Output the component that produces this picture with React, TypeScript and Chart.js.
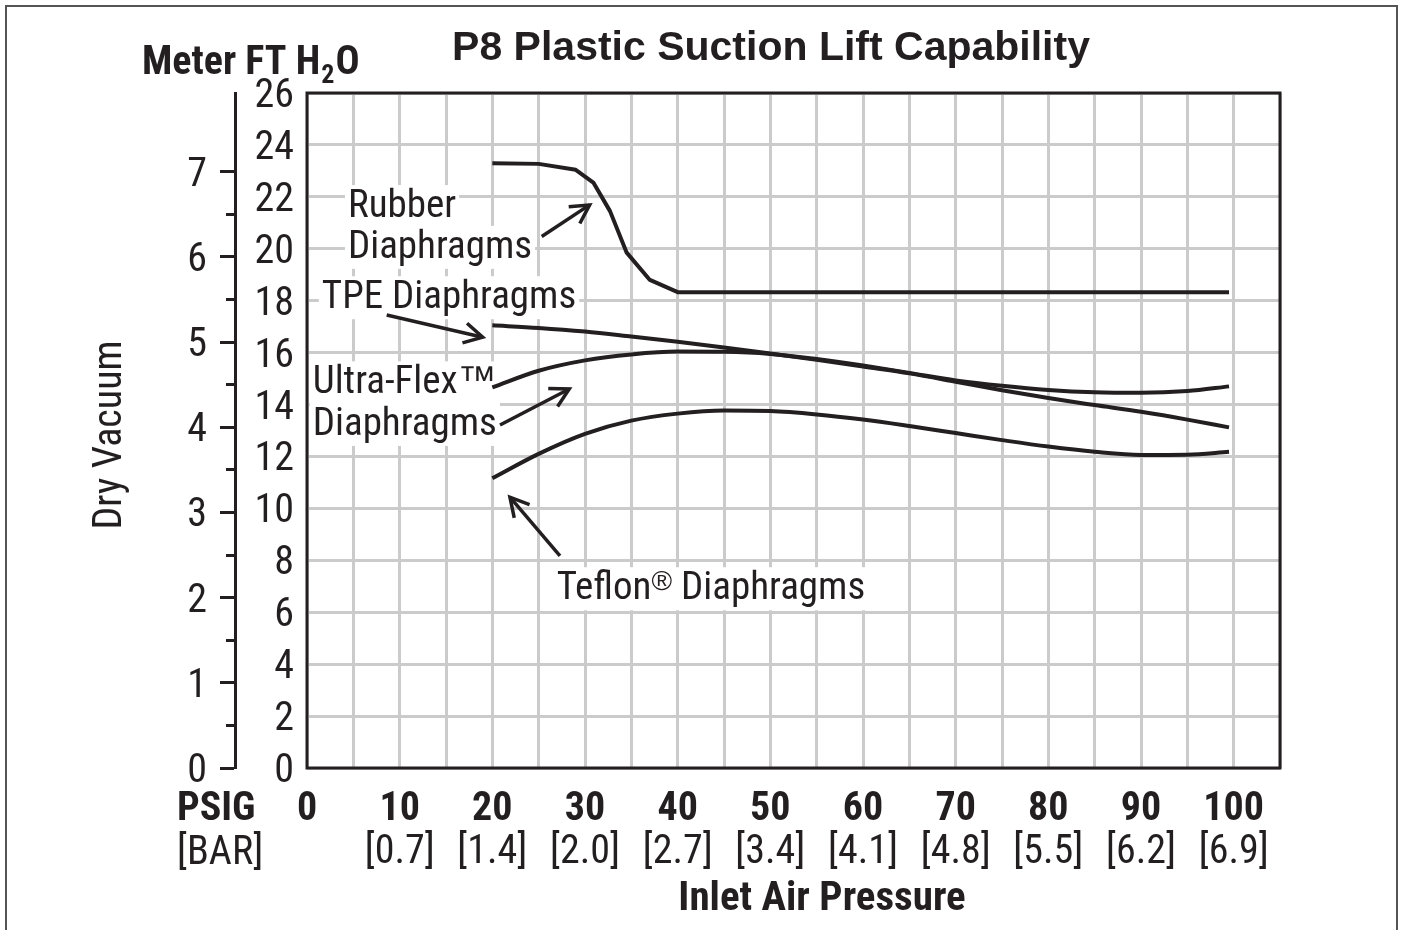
import React, { useEffect, useRef } from 'react';
import { Chart, registerables } from 'chart.js';

Chart.register(...registerables);

// ---------- data ----------
const FT_PER_METER = 3.28084;

const rubberPsi = [20, 25, 29, 30.9, 32.7, 34.5, 37, 40, 99.5];
const rubberFt = [23.29, 23.27, 23.04, 22.55, 21.45, 19.85, 18.8, 18.33, 18.33];

const curvePsi = [20, 25, 30, 35, 40, 45, 50, 55, 60, 65, 70, 75, 80, 85, 90, 95, 99.5];
const tpeFt = [17.05, 16.95, 16.81, 16.62, 16.42, 16.2, 15.97, 15.72, 15.46, 15.2, 14.88, 14.55, 14.25, 13.98, 13.72, 13.42, 13.12];
const ultraFlexFt = [14.66, 15.3, 15.7, 15.93, 16.04, 16.03, 15.95, 15.75, 15.5, 15.22, 14.93, 14.72, 14.56, 14.47, 14.45, 14.52, 14.7];
const teflonFt = [11.16, 12.1, 12.87, 13.38, 13.65, 13.77, 13.75, 13.62, 13.42, 13.17, 12.9, 12.63, 12.38, 12.18, 12.06, 12.07, 12.18];

const psiTickValues = [0, 10, 20, 30, 40, 50, 60, 70, 80, 90, 100];
const barTickLabels = ['', '[0.7]', '[1.4]', '[2.0]', '[2.7]', '[3.4]', '[4.1]', '[4.8]', '[5.5]', '[6.2]', '[6.9]'];

// annotation texts (anchored in data coordinates: left edge / baseline)
const annotationLabels = [
  { parts: [{ t: 'Rubber' }], psi: 4.42, ft: 21.22 },
  { parts: [{ t: 'Diaphragms' }], psi: 4.42, ft: 19.65 },
  { parts: [{ t: 'TPE Diaphragms' }], psi: 1.6, ft: 17.71 },
  { parts: [{ t: 'Ultra-Flex' }, { t: '™', sym: 39, rise: 0 }], psi: 0.62, ft: 14.43 },
  { parts: [{ t: 'Diaphragms' }], psi: 0.62, ft: 12.83 },
  { parts: [{ t: 'Teflon' }, { t: '®', sym: 28, rise: 9 }, { t: ' Diaphragms' }], psi: 26.94, ft: 6.5 },
];

const annotationArrows = [
  { from: [25.33, 20.47], to: [30.5, 21.69] },
  { from: [8.6, 17.45], to: [18.96, 16.59] },
  { from: [20.83, 13.21], to: [28.3, 14.6] },
  { from: [27.3, 8.17], to: [21.9, 10.43] },
];

// ---------- styles ----------
const INK = '#231f20';
const GRID = '#cbcbcb';
const NARROW = '"Roboto Condensed", "Liberation Sans Narrow", "DejaVu Sans Condensed", sans-serif';
const WIDE = '"Liberation Sans", Arial, sans-serif';

function drawArrow(ctx: CanvasRenderingContext2D, x1: number, y1: number, x2: number, y2: number) {
  ctx.beginPath();
  ctx.moveTo(x1, y1);
  ctx.lineTo(x2, y2);
  ctx.stroke();
  const a = Math.atan2(y2 - y1, x2 - x1);
  const L = 21;
  const h = 0.5;
  ctx.beginPath();
  ctx.moveTo(x2 - L * Math.cos(a - h), y2 - L * Math.sin(a - h));
  ctx.lineTo(x2, y2);
  ctx.lineTo(x2 - L * Math.cos(a + h), y2 - L * Math.sin(a + h));
  ctx.stroke();
}

const decorPlugin = {
  id: 'decor',
  beforeDraw(chart: any) {
    const ctx = chart.ctx as CanvasRenderingContext2D;
    ctx.save();
    ctx.strokeStyle = '#555';
    ctx.lineWidth = 2;
    ctx.strokeRect(6, 6, 1391, 940);
    ctx.restore();
  },
  beforeDatasetsDraw(chart: any) {
    const ctx = chart.ctx as CanvasRenderingContext2D;
    const xs = chart.scales.x;
    const ys = chart.scales.y;
    ctx.save();
    const size = 39;
    const fontOf = (p: any) => (p.sym ? `${p.sym}px ${WIDE}` : `${size}px ${NARROW}`);
    for (const lab of annotationLabels) {
      const px = xs.getPixelForValue(lab.psi);
      const py = ys.getPixelForValue(lab.ft);
      let w = 0;
      const widths: number[] = [];
      for (const p of lab.parts as any[]) {
        ctx.font = fontOf(p);
        const m = ctx.measureText(p.t).width;
        widths.push(m);
        w += m;
      }
      ctx.fillStyle = '#ffffff';
      ctx.fillRect(px - 3, py - 32, w + 6, 43);
      ctx.fillStyle = INK;
      ctx.textBaseline = 'alphabetic';
      ctx.textAlign = 'left';
      let cx = px;
      (lab.parts as any[]).forEach((p, i) => {
        ctx.font = fontOf(p);
        ctx.fillText(p.t, cx, py - (p.rise || 0));
        cx += widths[i];
      });
    }
    ctx.strokeStyle = INK;
    ctx.lineWidth = 3.5;
    for (const a of annotationArrows) {
      drawArrow(
        ctx,
        xs.getPixelForValue(a.from[0]),
        ys.getPixelForValue(a.from[1]),
        xs.getPixelForValue(a.to[0]),
        ys.getPixelForValue(a.to[1])
      );
    }
    ctx.restore();
  },
  afterDraw(chart: any) {
    const ctx = chart.ctx as CanvasRenderingContext2D;
    const area = chart.chartArea;
    ctx.save();
    // plot frame
    ctx.strokeStyle = INK;
    ctx.lineWidth = 3;
    ctx.strokeRect(area.left, area.top, area.right - area.left, area.bottom - area.top);

    ctx.fillStyle = INK;
    ctx.textBaseline = 'alphabetic';
    // title
    ctx.textAlign = 'center';
    ctx.font = `bold 41px ${WIDE}`;
    ctx.fillText('P8 Plastic Suction Lift Capability', 771, 60);

    // Meter FT H2O
    ctx.textAlign = 'left';
    ctx.font = `bold 40px ${NARROW}`;
    let x0 = 142;
    ctx.fillText('Meter FT H', x0, 74);
    x0 += ctx.measureText('Meter FT H').width;
    ctx.font = `bold 26px ${NARROW}`;
    ctx.fillText('2', x0 + 1, 83);
    x0 += ctx.measureText('2').width + 2;
    ctx.font = `bold 40px ${NARROW}`;
    ctx.fillText('O', x0, 74);

    // PSIG / [BAR]
    ctx.font = `bold 40px ${NARROW}`;
    ctx.fillText('PSIG', 177, 820);
    ctx.font = `40px ${NARROW}`;
    ctx.fillText('[BAR]', 177, 864);

    // x axis title
    ctx.textAlign = 'center';
    ctx.font = `bold 41px ${NARROW}`;
    ctx.fillText('Inlet Air Pressure', 822, 910);

    // y axis title
    ctx.translate(121, 435);
    ctx.rotate(-Math.PI / 2);
    ctx.font = `40px ${NARROW}`;
    ctx.textAlign = 'center';
    ctx.fillText('Dry Vacuum', 0, 0);
    ctx.restore();
  },
};

export default function App() {
  const canvasRef = useRef<HTMLCanvasElement | null>(null);

  useEffect(() => {
    const canvas = canvasRef.current;
    if (!canvas) return;
    const lineStyle = {
      borderColor: INK,
      borderWidth: 4,
      pointRadius: 0,
      fill: false,
      xAxisID: 'x',
      yAxisID: 'y',
    };
    const chart = new Chart(canvas, {
      type: 'line',
      data: {
        datasets: [
          {
            ...lineStyle,
            label: 'Rubber Diaphragms',
            data: rubberPsi.map((p, i) => ({ x: p, y: rubberFt[i] })),
            tension: 0,
            borderJoinStyle: 'round',
          },
          {
            ...lineStyle,
            label: 'TPE Diaphragms',
            data: curvePsi.map((p, i) => ({ x: p, y: tpeFt[i] })),
            cubicInterpolationMode: 'monotone',
          },
          {
            ...lineStyle,
            label: 'Ultra-Flex™ Diaphragms',
            data: curvePsi.map((p, i) => ({ x: p, y: ultraFlexFt[i] })),
            cubicInterpolationMode: 'monotone',
          },
          {
            ...lineStyle,
            label: 'Teflon® Diaphragms',
            data: curvePsi.map((p, i) => ({ x: p, y: teflonFt[i] })),
            cubicInterpolationMode: 'monotone',
          },
        ] as any,
      },
      options: {
        animation: false,
        responsive: false,
        devicePixelRatio: 1,
        layout: { padding: { left: 170, top: 93, right: 121, bottom: 61 } },
        plugins: {
          legend: { display: false },
          title: { display: false },
          tooltip: { enabled: false },
        },
        scales: {
          x: {
            type: 'linear',
            position: 'bottom',
            weight: 0,
            min: 0,
            max: 105,
            afterFit: (s: any) => {
              s.height = 56;
            },
            grid: { color: GRID, lineWidth: 3, drawTicks: false },
            border: { display: false },
            ticks: {
              stepSize: 5,
              autoSkip: false,
              maxRotation: 0,
              padding: 18,
              color: INK,
              font: { family: NARROW, size: 40, weight: 'bold' },
              callback: (v: any) => (psiTickValues.includes(v) ? String(v) : ''),
            },
          },
          xBar: {
            type: 'linear',
            position: 'bottom',
            weight: 1,
            min: 0,
            max: 105,
            afterFit: (s: any) => {
              s.height = 45;
            },
            grid: { display: false, drawTicks: false },
            border: { display: false },
            ticks: {
              stepSize: 5,
              autoSkip: false,
              maxRotation: 0,
              padding: 5,
              color: INK,
              font: { family: NARROW, size: 40 },
              callback: (v: any) => {
                const i = psiTickValues.indexOf(v);
                return i >= 0 ? barTickLabels[i] : '';
              },
            },
          },
          y: {
            type: 'linear',
            position: 'left',
            weight: 0,
            min: 0,
            max: 26,
            afterFit: (s: any) => {
              s.width = 72;
            },
            grid: { color: GRID, lineWidth: 3, drawTicks: false },
            border: { display: false },
            ticks: {
              stepSize: 2,
              autoSkip: false,
              padding: 13,
              labelOffset: 4,
              color: INK,
              font: { family: NARROW, size: 40 },
            },
          },
          yMeter: {
            type: 'linear',
            position: 'left',
            weight: 1,
            min: 0,
            max: 26 / FT_PER_METER,
            afterFit: (s: any) => {
              s.width = 65;
            },
            afterBuildTicks: (s: any) => {
              s.ticks = s.ticks.filter((t: any) => Math.abs(t.value * 2 - Math.round(t.value * 2)) < 1e-6);
            },
            grid: {
              drawOnChartArea: false,
              drawTicks: true,
              tickLength: 15,
              tickWidth: 3,
              tickColor: INK,
              tickBorderDash: (c: any) => (c.tick && Number.isInteger(c.tick.value) ? [] : [0, 6, 9, 0]),
            },
            border: { display: true, color: INK, width: 3 },
            ticks: {
              stepSize: 0.5,
              autoSkip: false,
              padding: 13,
              labelOffset: 4,
              color: INK,
              font: { family: NARROW, size: 40 },
              callback: (v: any) => (Number.isInteger(v) ? String(v) : ''),
            },
          },
        } as any,
      },
      plugins: [decorPlugin],
    });
    return () => chart.destroy();
  }, []);

  return (
    <div style={{ position: 'absolute', left: 0, top: 0, width: 1401, height: 930, background: '#fff' }}>
      <canvas ref={canvasRef} width={1401} height={930} style={{ display: 'block' }} />
    </div>
  );
}
